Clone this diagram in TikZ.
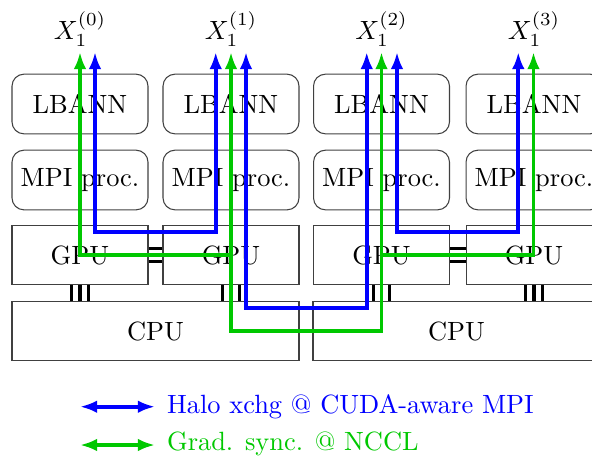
\documentclass[tikz,border=0pt]{standalone}
\usetikzlibrary{arrows.meta}
\definecolor{halo}{RGB}{0,0,255}
\definecolor{grad}{RGB}{0,200,0}
\begin{document}
\begin{tikzpicture}[x=0.3788pt,y=-0.3788pt,
  rbox/.style={draw=black!75, rounded corners=4.5pt, minimum width=51.5pt, minimum height=22.6pt, inner sep=0pt},
  sbox/.style={draw=black!75, minimum width=51.5pt, minimum height=22.6pt, inner sep=0pt},
  cbox/.style={draw=black!75, minimum width=108.7pt, minimum height=22.6pt, inner sep=0pt},
  link/.style={line width=1.2pt, black},
  comm/.style={line width=1.5pt, {Latex[length=6.5pt,width=4.8pt]}-{Latex[length=6.5pt,width=4.8pt]}},
  half/.style={line width=1.5pt, -{Latex[length=6.5pt,width=4.8pt]}},
  lbl/.style={inner sep=0pt}]
\clip (0,0) rectangle (592,456);
\useasboundingbox (0,0) rectangle (592,456);
% boxes
\foreach \i/\cx in {0/80,1/231,2/381.5,3/534}{
  \node[rbox] (lb\i) at (\cx,104) {LBANN};
  \node[rbox] (mpi\i) at (\cx,180) {MPI proc.};
  \node[sbox] (gpu\i) at (\cx,255) {GPU};
  \node[lbl] (x\i) at (\cx,29) {$X_1^{(\i)}$};
}
\node[cbox] (cpuA) at (155.5,331) {CPU};
\node[cbox] (cpuB) at (456.5,331) {CPU};
% GPU-GPU links
\draw[link] ([yshift=2.5pt]gpu0.east) -- ([yshift=2.5pt]gpu1.west);
\draw[link] ([yshift=-2.5pt]gpu0.east) -- ([yshift=-2.5pt]gpu1.west);
\draw[link] ([yshift=2.5pt]gpu2.east) -- ([yshift=2.5pt]gpu3.west);
\draw[link] ([yshift=-2.5pt]gpu2.east) -- ([yshift=-2.5pt]gpu3.west);
% GPU-CPU links
\foreach \g/\c in {0/cpuA,1/cpuA,2/cpuB,3/cpuB}{
  \foreach \s in {-3.15pt,0pt,3.15pt}{
    \draw[link] ([xshift=\s]gpu\g.south) -- ([xshift=\s]gpu\g.south |- \c.north);
  }
}
% arrow end coordinates
\coordinate (b0) at (95,52);
\coordinate (b1l) at (215.7,52);
\coordinate (b1r) at (246,52);
\coordinate (b2l) at (366.7,52);
\coordinate (b2r) at (397,52);
\coordinate (b3) at (518.3,52);
\coordinate (g0) at (80,52);
\coordinate (g1) at (231,52);
\coordinate (g2) at (381.5,52);
\coordinate (g3) at (533.5,52);
\coordinate (gj1) at (231,255);
\coordinate (gj2) at (381.5,255);
% halo exchange (blue)
\draw[comm, halo] (b0) -- (95,232) -- (215.7,232) -- (b1l);
\draw[comm, halo] (b1r) -- (246,308) -- (366.7,308) -- (b2l);
\draw[comm, halo] (b2r) -- (397,232) -- (518.3,232) -- (b3);
% gradient sync (green)
\draw[comm, grad] (g1) -- (231,331) -- (381.5,331) -- (g2);
\draw[half, grad] (gj1) -- (80,255) -- (g0);
\draw[half, grad] (gj2) -- (533.5,255) -- (g3);
% legend
\coordinate (la1) at (80,406.7);
\coordinate (lb1) at (155,406.7);
\coordinate (la2) at (80,445);
\coordinate (lb2) at (155,445);
\draw[comm, halo] (la1) -- (lb1);
\draw[comm, grad] (la2) -- (lb2);
\node[lbl, anchor=base west, text=halo] (t1) at (166.5,413.3) {Halo xchg @ CUDA-aware MPI};
\node[lbl, anchor=base west, text=grad] (t2) at (166.5,450.7) {Grad. sync. @ NCCL};
\end{tikzpicture}
\end{document}
